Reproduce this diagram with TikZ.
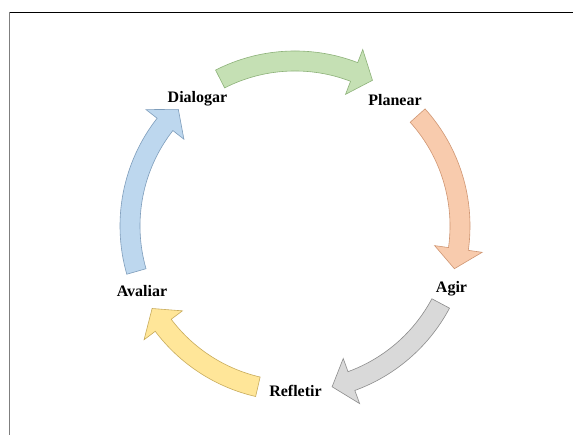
\documentclass[tikz,border=0pt]{standalone}
\usepackage{fontspec}
\setmainfont{Liberation Serif}
\definecolor{greenfill}{HTML}{C5E0B4}\definecolor{greenline}{HTML}{8DB279}
\definecolor{orangefill}{HTML}{F8CBAD}\definecolor{orangeline}{HTML}{D09672}
\definecolor{grayfill}{HTML}{D9D9D9}\definecolor{grayline}{HTML}{8C8C8C}
\definecolor{yellowfill}{HTML}{FFE699}\definecolor{yellowline}{HTML}{C8AC5C}
\definecolor{bluefill}{HTML}{BDD7EE}\definecolor{blueline}{HTML}{7E9DBB}
\definecolor{framegray}{HTML}{7F7F7F}
% curved block arrow on the cycle: tail angle #1, tip angle #2
\newcommand\cyclearrow[4]{%
  \filldraw[cyc, fill=#3, draw=#4, shift={(C)}]
    (#1:175) arc[start angle=#1, end angle=#2+7, radius=175]
    -- ({#2+7}:189) -- (#2:165) -- ({#2+7}:141) -- ({#2+7}:155)
    arc[start angle=#2+7, end angle=#1, radius=155] -- cycle;}
\begin{document}
\begin{tikzpicture}[x=1pt, y=1pt,
  steplabel/.style={font=\bfseries\fontsize{16}{19}\selectfont, anchor=base, inner sep=0pt},
  cyc/.style={line width=0.6pt, line join=miter}]
\useasboundingbox (0,0) rectangle (573,435);
\fill[white] (0,0) rectangle (573,435);
% page frame
\draw[black, line width=1pt] (9.5,422.5) -- (573,422.5);
\draw[framegray, line width=1.3pt] (9.5,423) -- (9.5,0);
\coordinate (C) at (295,209);
% step labels
\node[steplabel] (dialogar) at (197.5,332) {Dialogar};
\node[steplabel] (planear)  at (395,329.5) {Planear};
\node[steplabel] (agir)     at (451.5,142) {Agir};
\node[steplabel] (refletir) at (295.5,38)  {Refletir};
\node[steplabel] (avaliar)  at (142,138)   {Avaliar};
% arrows of the cycle
\cyclearrow{117}{62}{greenfill}{greenline}
\cyclearrow{42}{-15}{orangefill}{orangeline}
\cyclearrow{-28}{-77}{grayfill}{grayline}
\cyclearrow{-103}{-150}{yellowfill}{yellowline}
\cyclearrow{-164}{-225}{bluefill}{blueline}
\end{tikzpicture}
\end{document}
